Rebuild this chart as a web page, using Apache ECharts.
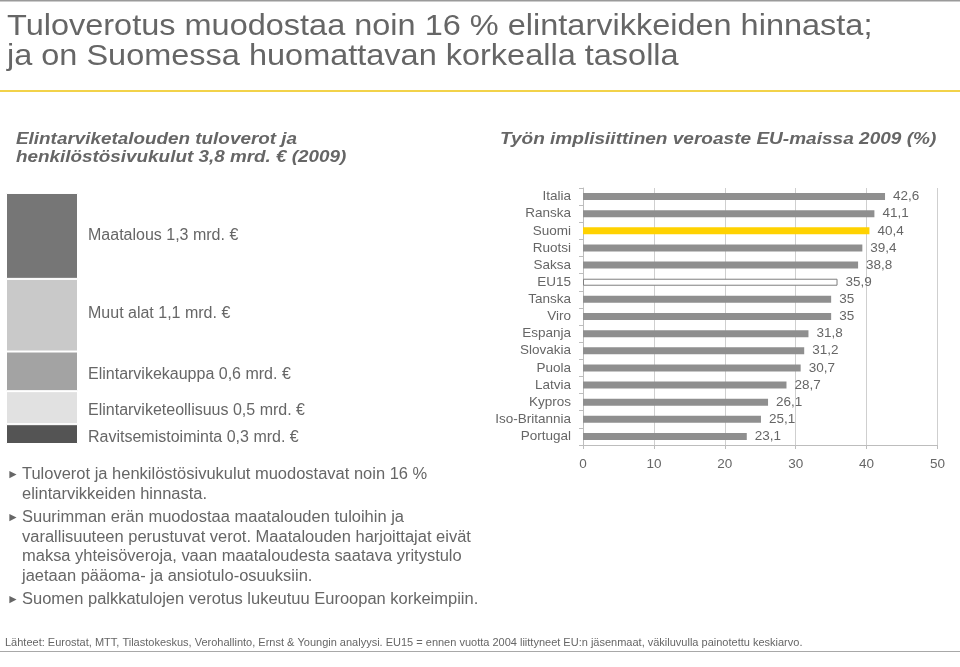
<!DOCTYPE html>
<html>
<head>
<meta charset="utf-8">
<script src="https://cdn.jsdelivr.net/npm/echarts@6/dist/echarts.min.js"></script>
<style>html,body{margin:0;padding:0;background:#fff;}#c{width:960px;height:667px;}</style>
</head>
<body>
<div id="c"></div>
<script>
// Left stacked column (billion €), top to bottom
const segNames = ['Maatalous', 'Muut alat', 'Elintarvikekauppa', 'Elintarviketeollisuus', 'Ravitsemistoiminta'];
const segValues = [1.3, 1.1, 0.6, 0.5, 0.3];
const segColors = ['#767676', '#c9c9c9', '#a3a3a3', '#e1e1e1', '#545454'];
const segLabelShift = [0, -2, 3, 3, 4];

// Right bar chart: implicit tax rate on labour 2009 (%)
const countries = ['Italia', 'Ranska', 'Suomi', 'Ruotsi', 'Saksa', 'EU15', 'Tanska', 'Viro', 'Espanja', 'Slovakia', 'Puola', 'Latvia', 'Kypros', 'Iso-Britannia', 'Portugal'];
const rates = [42.6, 41.1, 40.4, 39.4, 38.8, 35.9, 35, 35, 31.8, 31.2, 30.7, 28.7, 26.1, 25.1, 23.1];
const xTicks = [0, 10, 20, 30, 40, 50];

const bullets = [
  ['Tuloverot ja henkilöstösivukulut muodostavat noin 16 %', 'elintarvikkeiden hinnasta.'],
  ['Suurimman erän muodostaa maatalouden tuloihin ja', 'varallisuuteen perustuvat verot. Maatalouden harjoittajat eivät', 'maksa yhteisöveroja, vaan maataloudesta saatava yritystulo', 'jaetaan pääoma- ja ansiotulo-osuuksiin.'],
  ['Suomen palkkatulojen verotus lukeutuu Euroopan korkeimpiin.']
];

const FONT = '"Liberation Sans", Arial, sans-serif';
const GREY = '#666666';

const chart = echarts.init(document.getElementById('c'));

// stacked series: bottom first
const stackSeries = [];
for (let i = segNames.length - 1; i >= 0; i--) {
  stackSeries.push({
    type: 'bar', name: segNames[i], stack: 's', xAxisIndex: 0, yAxisIndex: 0,
    barWidth: '100%', data: [segValues[i]], silent: true,
    itemStyle: { color: segColors[i], borderColor: '#fff', borderWidth: 1 },
    label: {
      show: true, position: 'right', distance: 10, color: GREY, fontSize: 16, fontFamily: FONT,
      offset: [0, segLabelShift[i]],
      formatter: segNames[i] + ' ' + String(segValues[i]).replace('.', ',') + ' mrd. €'
    }
  });
}

const barData = rates.map((v, i) => {
  const c = countries[i];
  let st = { color: '#8f8f8f' };
  if (c === 'Suomi') st = { color: '#ffd200' };
  if (c === 'EU15') st = { color: '#ffffff', borderColor: '#7f7f7f', borderWidth: 1 };
  return { value: v, itemStyle: st };
});

function txt(x, y, text, font, sx) {
  return { type: 'text', x: x, y: y, scaleX: sx || 1, style: { text: text, font: font, fill: GREY, textVerticalAlign: 'middle' } };
}

const graphics = [
  { type: 'rect', shape: { x: 0, y: 0, width: 960, height: 1.5 }, style: { fill: '#9a9a9a' } },
  txt(7, 27, 'Tuloverotus muodostaa noin 16 % elintarvikkeiden hinnasta;', '29px ' + FONT, 1.12),
  txt(7, 57, 'ja on Suomessa huomattavan korkealla tasolla', '29px ' + FONT, 1.12),
  { type: 'rect', shape: { x: 0, y: 90, width: 960, height: 2 }, style: { fill: '#f2d24a' } },
  txt(16, 139, 'Elintarviketalouden tuloverot ja', 'italic bold 17px ' + FONT, 1.11),
  txt(16, 157, 'henkilöstösivukulut 3,8 mrd. € (2009)', 'italic bold 17px ' + FONT, 1.11),
  txt(500, 139, 'Työn implisiittinen veroaste EU-maissa 2009 (%)', 'italic bold 17px ' + FONT, 1.12),
  txt(5, 643, 'Lähteet: Eurostat, MTT, Tilastokeskus, Verohallinto, Ernst & Youngin analyysi. EU15 = ennen vuotta 2004 liittyneet EU:n jäsenmaat, väkiluvulla painotettu keskiarvo.', '11px ' + FONT, 1),
  { type: 'rect', shape: { x: 0, y: 651, width: 960, height: 1 }, style: { fill: '#a8a8a8' } }
];

const lineYs = [[475, 495], [518, 538, 557, 577], [600]];
bullets.forEach((b, bi) => {
  graphics.push(txt(7, lineYs[bi][0], '►', '12px ' + FONT, 1));
  b.forEach((line, li) => {
    graphics.push(txt(22, lineYs[bi][li], line, '16px ' + FONT, 1.03));
  });
});

chart.setOption({
  animation: false,
  textStyle: { fontFamily: FONT },
  grid: [
    { left: 6, top: 193, width: 72, height: 251 },
    { left: 583, top: 188, right: 22.5, height: 257 }
  ],
  xAxis: [
    { gridIndex: 0, type: 'category', data: ['x'], show: false },
    {
      gridIndex: 1, type: 'value', min: xTicks[0], max: xTicks[xTicks.length - 1], interval: 10,
      axisLine: { show: true, lineStyle: { color: '#bdbdbd' } },
      axisTick: { show: true, length: 4, lineStyle: { color: '#bdbdbd' } },
      splitLine: { show: true, lineStyle: { color: '#cfcfcf' } },
      axisLabel: { color: GREY, fontSize: 13.5, margin: 12 }
    }
  ],
  yAxis: [
    { gridIndex: 0, type: 'value', min: 0, max: 3.8, show: false },
    {
      gridIndex: 1, type: 'category', data: countries, inverse: true,
      axisLine: { show: true, lineStyle: { color: '#bdbdbd' } },
      axisTick: { show: true, length: 4, lineStyle: { color: '#bdbdbd' } },
      axisLabel: { color: GREY, fontSize: 13.5, margin: 12, interval: 0 }
    }
  ],
  series: stackSeries.concat([{
    type: 'bar', xAxisIndex: 1, yAxisIndex: 1, data: barData, barWidth: 7, silent: true,
    label: {
      show: true, position: 'right', distance: 8, color: GREY, fontSize: 13.5,
      formatter: p => String(p.value).replace('.', ',')
    }
  }]),
  graphic: graphics
});
</script>
</body>
</html>
